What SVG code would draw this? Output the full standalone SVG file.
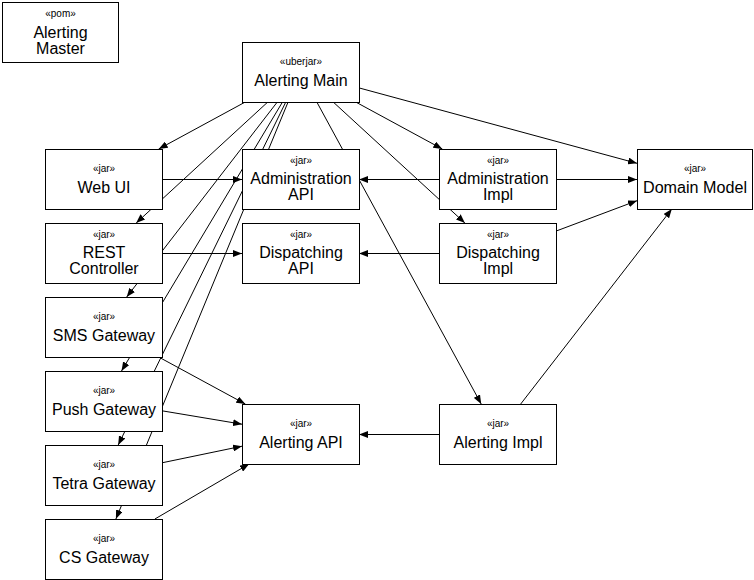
<svg xmlns="http://www.w3.org/2000/svg" width="754" height="580" viewBox="0 0 754 580">
  <style>
    .box { fill: #ffffff; stroke: #000000; stroke-width: 1; }
    .edge { fill: none; stroke: #000000; stroke-width: 1; marker-end: url(#arrow); }
    text { font-family: "Liberation Sans", Arial, Helvetica, sans-serif; fill: #000000; text-anchor: middle; }
    .st { font-size: 10px; }
    .lb { font-size: 16px; }
  </style>
  <defs>
    <marker id="arrow" viewBox="0 0 9 7" refX="9" refY="3.5" markerWidth="9" markerHeight="7" orient="auto" markerUnits="userSpaceOnUse">
      <path d="M0,0 L9,3.5 L0,7 Z" fill="#000000"/>
    </marker>
  </defs>

  <!-- dependency connectors (drawn first so the boxes hide the parts they cross) -->
  <g id="connectors">
    <line class="edge" x1="245.3" y1="102" x2="158.7" y2="149"/>
    <line class="edge" x1="267.8" y1="102" x2="136.2" y2="223"/>
    <line class="edge" x1="277.3" y1="102" x2="126.7" y2="297"/>
    <line class="edge" x1="282.5" y1="102" x2="121.5" y2="371"/>
    <line class="edge" x1="285.8" y1="102" x2="118.2" y2="445"/>
    <line class="edge" x1="288.1" y1="102" x2="115.9" y2="519"/>
    <line class="edge" x1="355.7" y1="102" x2="442.3" y2="149"/>
    <line class="edge" x1="333.2" y1="102" x2="464.9" y2="223"/>
    <line class="edge" x1="316.8" y1="102" x2="481.2" y2="404"/>
    <line class="edge" x1="359" y1="87.9" x2="637" y2="163.3"/>
    <line class="edge" x1="162" y1="179.5" x2="242" y2="179.5"/>
    <line class="edge" x1="162" y1="253.5" x2="242" y2="253.5"/>
    <line class="edge" x1="439" y1="179.5" x2="359" y2="179.5"/>
    <line class="edge" x1="556" y1="179.5" x2="637" y2="179.5"/>
    <line class="edge" x1="439" y1="253.5" x2="359" y2="253.5"/>
    <line class="edge" x1="556" y1="231.1" x2="637" y2="200.7"/>
    <line class="edge" x1="439" y1="434.5" x2="359" y2="434.5"/>
    <line class="edge" x1="520.7" y1="404" x2="671.8" y2="209"/>
    <line class="edge" x1="158.7" y1="357" x2="245.3" y2="404"/>
    <line class="edge" x1="162" y1="410.8" x2="242" y2="424.2"/>
    <line class="edge" x1="162" y1="462.8" x2="242" y2="446.2"/>
    <line class="edge" x1="154.9" y1="519" x2="249.1" y2="464"/>
  </g>

  <g id="alerting-master">
    <rect class="box" x="2.5" y="2.5" width="116" height="60"/>
    <text class="st" x="60.5" y="16.5">«pom»</text>
    <text class="lb" x="60.5" y="37.5">Alerting</text>
    <text class="lb" x="60.5" y="53.5">Master</text>
  </g>

  <g id="alerting-main">
    <rect class="box" x="242.5" y="42.5" width="117" height="60"/>
    <text class="st" x="301" y="65">«uberjar»</text>
    <text class="lb" x="301" y="85.5">Alerting Main</text>
  </g>

  <g id="web-ui">
    <rect class="box" x="45.5" y="149.5" width="117" height="60"/>
    <text class="st" x="104" y="172">«jar»</text>
    <text class="lb" x="104" y="193">Web UI</text>
  </g>

  <g id="rest-controller">
    <rect class="box" x="45.5" y="223.5" width="117" height="60"/>
    <text class="st" x="104" y="237.5">«jar»</text>
    <text class="lb" x="104" y="258">REST</text>
    <text class="lb" x="104" y="274">Controller</text>
  </g>

  <g id="sms-gateway">
    <rect class="box" x="45.5" y="297.5" width="117" height="60"/>
    <text class="st" x="104" y="320">«jar»</text>
    <text class="lb" x="104" y="341">SMS Gateway</text>
  </g>

  <g id="push-gateway">
    <rect class="box" x="45.5" y="371.5" width="117" height="60"/>
    <text class="st" x="104" y="394">«jar»</text>
    <text class="lb" x="104" y="415">Push Gateway</text>
  </g>

  <g id="tetra-gateway">
    <rect class="box" x="45.5" y="445.5" width="117" height="60"/>
    <text class="st" x="104" y="468">«jar»</text>
    <text class="lb" x="104" y="489">Tetra Gateway</text>
  </g>

  <g id="cs-gateway">
    <rect class="box" x="45.5" y="519.5" width="117" height="60"/>
    <text class="st" x="104" y="542">«jar»</text>
    <text class="lb" x="104" y="563">CS Gateway</text>
  </g>

  <g id="administration-api">
    <rect class="box" x="242.5" y="149.5" width="117" height="60"/>
    <text class="st" x="301" y="163.5">«jar»</text>
    <text class="lb" x="301" y="184">Administration</text>
    <text class="lb" x="301" y="200">API</text>
  </g>

  <g id="dispatching-api">
    <rect class="box" x="242.5" y="223.5" width="117" height="60"/>
    <text class="st" x="301" y="237.5">«jar»</text>
    <text class="lb" x="301" y="258">Dispatching</text>
    <text class="lb" x="301" y="274">API</text>
  </g>

  <g id="alerting-api">
    <rect class="box" x="242.5" y="404.5" width="117" height="60"/>
    <text class="st" x="301" y="427">«jar»</text>
    <text class="lb" x="301" y="448">Alerting API</text>
  </g>

  <g id="administration-impl">
    <rect class="box" x="439.5" y="149.5" width="117" height="60"/>
    <text class="st" x="498" y="163.5">«jar»</text>
    <text class="lb" x="498" y="184">Administration</text>
    <text class="lb" x="498" y="200">Impl</text>
  </g>

  <g id="dispatching-impl">
    <rect class="box" x="439.5" y="223.5" width="117" height="60"/>
    <text class="st" x="498" y="237.5">«jar»</text>
    <text class="lb" x="498" y="258">Dispatching</text>
    <text class="lb" x="498" y="274">Impl</text>
  </g>

  <g id="alerting-impl">
    <rect class="box" x="439.5" y="404.5" width="117" height="60"/>
    <text class="st" x="498" y="427">«jar»</text>
    <text class="lb" x="498" y="448">Alerting Impl</text>
  </g>

  <g id="domain-model">
    <rect class="box" x="637.5" y="149.5" width="115" height="60"/>
    <text class="st" x="695" y="172">«jar»</text>
    <text class="lb" x="695" y="193" textLength="104" lengthAdjust="spacingAndGlyphs">Domain Model</text>
  </g>
</svg>
